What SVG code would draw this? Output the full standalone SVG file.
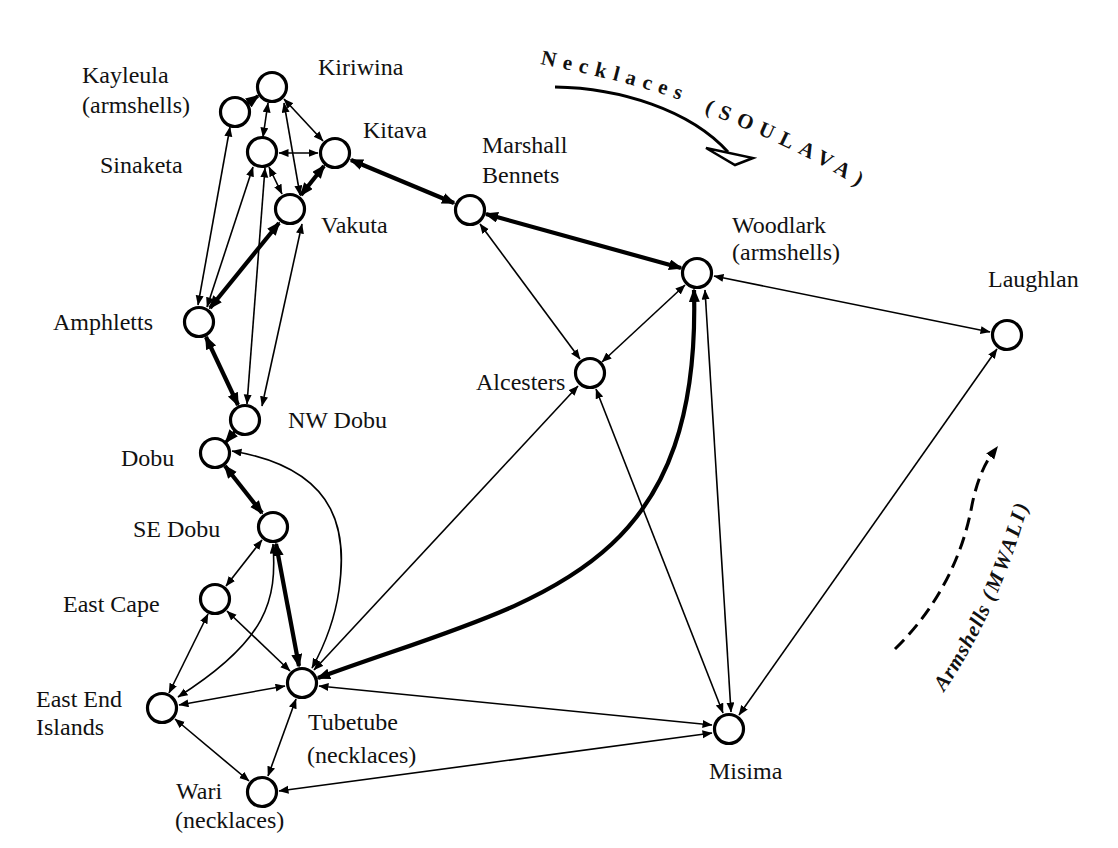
<svg xmlns="http://www.w3.org/2000/svg" width="1118" height="848" viewBox="0 0 1118 848">
<style>
text{font-family:"Liberation Serif","Times New Roman",serif;font-size:24px;fill:#111}
.t{fill:none;stroke:#000;stroke-width:1.6;marker-start:url(#a);marker-end:url(#a)}
.k{fill:none;stroke:#000;stroke-width:4.2;marker-start:url(#b);marker-end:url(#b)}
.n{fill:#fff;stroke:#000;stroke-width:3.2}
.nk{font-weight:bold;font-size:21px}
.am{font-weight:bold;font-style:italic;font-size:21px}
</style>
<defs>
<marker id="a" markerUnits="userSpaceOnUse" markerWidth="12" markerHeight="10" refX="9.5" refY="4" orient="auto-start-reverse"><path d="M0,0 L10,4 L0,8 Z" fill="#000"/></marker>
<marker id="b" markerUnits="userSpaceOnUse" markerWidth="16" markerHeight="13" refX="12" refY="5.5" orient="auto-start-reverse"><path d="M0,0 L14,5.5 L0,11 Z" fill="#000"/></marker>
<marker id="c" markerUnits="userSpaceOnUse" markerWidth="16" markerHeight="13" refX="3" refY="5" orient="auto"><path d="M0,0 L13,5 L0,10 Z" fill="#000"/></marker>
<path id="np1" d="M 540 64 C 600 76, 650 88, 702 108"/>
<path id="np2" d="M 704 112 C 760 134, 820 160, 872 196"/>
<path id="ap" d="M 944 692 Q 1000 610 1032 492"/>
</defs>

<g id="connectors">
<path class="t" d="M230 127 L198 305"/>
<path class="t" d="M268 103 L263 137"/>
<path class="t" d="M284 103 L300 195"/>
<path class="t" d="M284 99 L323 141"/>
<path class="t" d="M279 153 L318 153"/>
<path class="t" d="M269 167 L282 194"/>
<path class="t" d="M253 167 L207 307"/>
<path class="t" d="M265 168 L247 404"/>
<path class="t" d="M302 224 L262 406"/>
<path class="t" d="M480 224 L580 359"/>
<path class="t" d="M685 285 L602 362"/>
<path class="t" d="M714 276 L990 332"/>
<path class="t" d="M997 349 L739 715"/>
<path class="t" d="M596 389 L723 713"/>
<path class="t" d="M705 290 L731 712"/>
<path class="t" d="M578 386 L314 670"/>
<path class="t" d="M319 686 L712 725"/>
<path class="t" d="M279 791 L712 733"/>
<path class="t" d="M262 540 L226 586"/>
<path class="t" d="M208 614 L169 693"/>
<path class="t" d="M227 611 L290 671"/>
<path class="t" d="M179 705 L285 686"/>
<path class="t" d="M175 719 L249 781"/>
<path class="t" d="M296 699 L268 776"/>
<path class="t" d="M232 451 C 345 470, 346 540, 339 590 C 334 625, 322 650, 312 668"/>
<path class="t" d="M273 544 C 277 600, 268 640, 178 697"/>

<path class="k" d="M324 166 L301 195"/>
<path class="k" d="M279 223 L210 308"/>
<path class="k" d="M351 160 L454 203"/>
<path class="k" d="M486 214 L681 268"/>
<path class="k" d="M206 337 L238 405"/>
<path class="k" d="M225 466 L262 513"/>
<path class="k" d="M276 544 L299 666"/>
<path class="k" d="M694 290 C 702 580, 530 600, 318 678"/>
<path d="M236 430 L226 442" fill="none" stroke="#000" stroke-width="3.5" marker-end="url(#b)"/>
<path d="M247 104 L258 96" fill="none" stroke="#000" stroke-width="3.5" marker-end="url(#b)"/>
</g>

<g id="necklaces-arrow">
<path d="M 555 87 C 620 88, 690 110, 728 152" fill="none" stroke="#000" stroke-width="3"/>
<polygon points="706,148 753,158 735,165" fill="#fff" stroke="#000" stroke-width="2.5"/>
<text class="nk" letter-spacing="7"><textPath href="#np1">Necklaces</textPath></text>
<text class="nk" letter-spacing="7.5"><textPath href="#np2">(SOULAVA)</textPath></text>
</g>

<g id="armshells-arrow">
<path d="M 895 649 C 935 610, 962 560, 972 505 C 976 485, 983 466, 992 454" fill="none" stroke="#000" stroke-width="3" stroke-dasharray="13 7" marker-end="url(#c)"/>
<text class="am" letter-spacing="1"><textPath href="#ap">Armshells <tspan letter-spacing="3">(MWALI)</tspan></textPath></text>
</g>

<g id="kiriwina"><circle class="n" cx="272" cy="87" r="14.5"/><text x="318" y="75">Kiriwina</text></g>
<g id="kayleula"><circle class="n" cx="235" cy="112" r="14.5"/><text x="82" y="83">Kayleula</text><text x="82" y="113">(armshells)</text></g>
<g id="sinaketa"><circle class="n" cx="262" cy="152" r="14.5"/><text x="100" y="173">Sinaketa</text></g>
<g id="kitava"><circle class="n" cx="335" cy="153" r="14.5"/><text x="363" y="138">Kitava</text></g>
<g id="vakuta"><circle class="n" cx="290" cy="209" r="14.5"/><text x="321" y="233">Vakuta</text></g>
<g id="amphletts"><circle class="n" cx="199" cy="322" r="14.5"/><text x="53" y="330">Amphletts</text></g>
<g id="nw-dobu"><circle class="n" cx="245" cy="420" r="14.5"/><text x="288" y="428">NW Dobu</text></g>
<g id="dobu"><circle class="n" cx="215" cy="453" r="14.5"/><text x="121" y="466">Dobu</text></g>
<g id="se-dobu"><circle class="n" cx="273" cy="527" r="14.5"/><text x="133" y="537">SE Dobu</text></g>
<g id="east-cape"><circle class="n" cx="215" cy="599" r="14.5"/><text x="63" y="612">East Cape</text></g>
<g id="east-end"><circle class="n" cx="162" cy="708" r="14.5"/><text x="36" y="707">East End</text><text x="36" y="735">Islands</text></g>
<g id="tubetube"><circle class="n" cx="302" cy="683" r="14.5"/><text x="308" y="730">Tubetube</text><text x="307" y="763">(necklaces)</text></g>
<g id="wari"><circle class="n" cx="262" cy="792" r="14.5"/><text x="176" y="799">Wari</text><text x="175" y="828">(necklaces)</text></g>
<g id="marshall-bennets"><circle class="n" cx="470" cy="210" r="14.5"/><text x="482" y="153">Marshall</text><text x="482" y="183">Bennets</text></g>
<g id="woodlark"><circle class="n" cx="697" cy="273" r="14.5"/><text x="732" y="233">Woodlark</text><text x="732" y="260">(armshells)</text></g>
<g id="laughlan"><circle class="n" cx="1007" cy="335" r="14.5"/><text x="988" y="287">Laughlan</text></g>
<g id="alcesters"><circle class="n" cx="590" cy="373" r="14.5"/><text x="476" y="390">Alcesters</text></g>
<g id="misima"><circle class="n" cx="729" cy="729" r="14.5"/><text x="709" y="779">Misima</text></g>
</svg>
